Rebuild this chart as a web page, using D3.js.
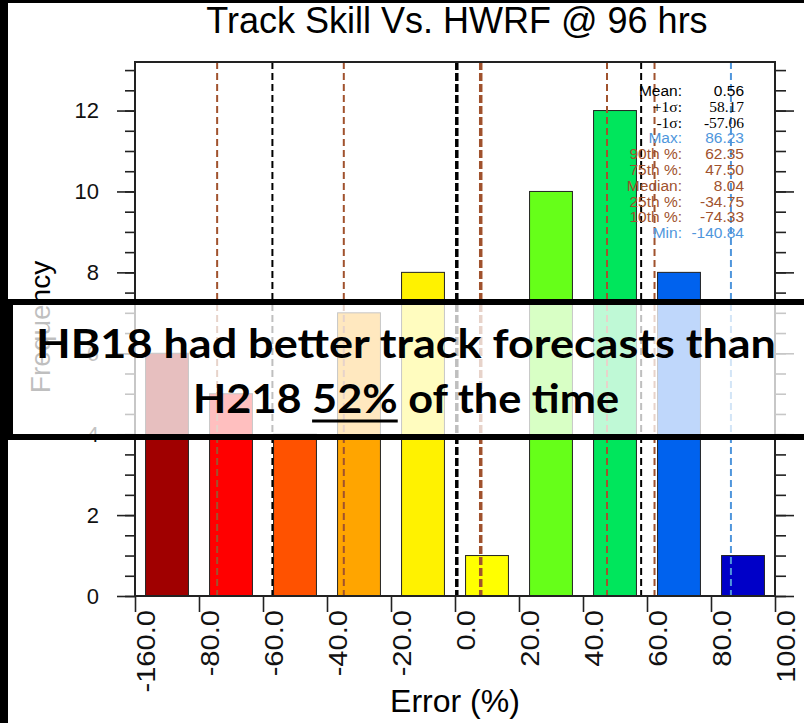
<!DOCTYPE html>
<html>
<head>
<meta charset="utf-8">
<script src="https://cdn.jsdelivr.net/npm/d3@7"></script>
<style>
  body { margin: 0; background: #fff; }
  svg { display: block; }
</style>
</head>
<body>
<div id="chart"></div>
<script>
// histogram bins (the first bin is wider, but drawn at the same width)
var binLabels = ["-160.0", "-80.0", "-60.0", "-40.0", "-20.0", "0.0", "20.0", "40.0", "60.0", "80.0", "100.0"];
var counts = [6, 5, 4, 7, 8, 1, 10, 12, 8, 1];
var barColors = ["#a00000", "#ff0000", "#ff5200", "#ffa500", "#fff200", "#ffff00", "#66ff19", "#00e65c", "#0062ee", "#0000c8"];
var yTicks = [0, 2, 4, 6, 8, 10, 12];

// summary statistics
var statNames = ["Mean:", "+1\u03c3:", "-1\u03c3:", "Max:", "90th %:", "75th %:", "Median:", "25th %:", "10th %:", "Min:"];
var statValues = [0.56, 58.17, -57.06, 86.23, 62.35, 47.50, 8.04, -34.75, -74.33, -140.84];
var statKinds = ["mean", "sigma", "sigma", "ext", "pct", "pct", "median", "pct", "pct", "ext"];

var overlayLines = ["HB18 had better track forecasts than", "H218 52% of the time"];

var W = 804, H = 723;
var margin = {top: 62, right: 29, bottom: 127, left: 135};
var width = W - margin.left - margin.right,
    height = H - margin.top - margin.bottom;

var kindColor = {mean: "#000", sigma: "#000", ext: "#4f96dc", pct: "#a0522d", median: "#a0522d"};
var kindWidth = {mean: 3.5, median: 3.5, sigma: 2, ext: 2, pct: 2};
var kindDash = {mean: "8,3", median: "8,3", sigma: "7,4", ext: "7,4", pct: "7,4"};

var svg = d3.select("#chart").append("svg")
            .attr("width", W)
            .attr("height", H)
            .style("font-family", "'Liberation Sans', Arial, sans-serif");

svg.append("rect").attr("width", W).attr("height", H).attr("fill", "#fff");

var g = svg.append("g")
           .attr("transform", "translate(" + margin.left + "," + margin.top + ")");

var xIdx = d3.scaleLinear().domain([0, 10]).range([0, width]);
// value scale: uniform 20-wide bins from -80 upward
var xVal = d3.scaleLinear().domain([-80, 100]).range([xIdx(1), xIdx(10)]);
var y = d3.scaleLinear().domain([0, 13.2]).range([height, 0]);

g.append("clipPath").attr("id", "plotclip")
 .append("rect").attr("width", width).attr("height", height);

// bars
var bw = (xIdx(1) - xIdx(0)) * 0.67;
g.append("g").selectAll("rect")
 .data(counts)
 .enter().append("rect")
   .attr("x", function(d, i){ return xIdx(i + 0.5) - bw / 2; })
   .attr("y", function(d){ return y(d); })
   .attr("width", bw)
   .attr("height", function(d){ return height - y(d); })
   .attr("fill", function(d, i){ return barColors[i]; })
   .attr("stroke", "#222")
   .attr("stroke-width", 1);

// stat lines
g.append("g").attr("clip-path", "url(#plotclip)")
 .selectAll("line")
 .data(statValues)
 .enter().append("line")
   .attr("x1", function(d){ return xVal(d); })
   .attr("x2", function(d){ return xVal(d); })
   .attr("y1", 0)
   .attr("y2", height)
   .attr("stroke", function(d, i){ return kindColor[statKinds[i]]; })
   .attr("stroke-width", function(d, i){ return kindWidth[statKinds[i]]; })
   .attr("stroke-dasharray", function(d, i){ return kindDash[statKinds[i]]; });

// axes
var yMinor = d3.range(0, 13.2, 0.5);
g.append("g").call(d3.axisLeft(y).tickValues(yMinor).tickSize(10).tickFormat(""));
g.append("g").call(d3.axisLeft(y).tickValues(yTicks).tickSize(18).tickPadding(18).tickFormat(d3.format("d")))
 .selectAll("text").style("font-size", "22px").attr("fill", "#111");
g.append("g").attr("transform", "translate(" + width + ",0)")
 .call(d3.axisRight(y).tickValues(yMinor).tickSize(11).tickFormat(""));
g.append("g").attr("transform", "translate(" + width + ",0)")
 .call(d3.axisRight(y).tickValues(yTicks).tickSize(19).tickFormat(""));

var xaxis = g.append("g").attr("transform", "translate(0," + height + ")")
 .call(d3.axisBottom(xIdx).tickValues(d3.range(11)).tickSize(16)
        .tickFormat(function(d){ return binLabels[d]; }));
xaxis.selectAll("text")
     .attr("x", 0).attr("y", 0).attr("dy", "0.35em")
     .attr("text-anchor", "end")
     .attr("transform", "translate(10,14) rotate(-90) scale(1.12,1)")
     .style("font-size", "26px")
     .attr("fill", "#111");

g.selectAll(".domain").remove();
g.selectAll(".tick line").attr("stroke", "#222").attr("stroke-width", 1.6);

// frame
g.append("rect").attr("width", width).attr("height", height)
 .attr("fill", "none").attr("stroke", "#222").attr("stroke-width", 2);

// stats block
var fmt = d3.format(".2f");
var stats = g.append("g").style("font-size", "15.5px");
statNames.forEach(function(name, i){
  var yy = 34 + i * 15.8;
  var serif = statKinds[i] === "sigma";
  stats.append("text")
       .attr("x", 547).attr("y", yy)
       .attr("text-anchor", "end")
       .attr("fill", kindColor[statKinds[i]])
       .style("font-family", serif ? "'Liberation Serif', serif" : null)
       .text(name);
  stats.append("text")
       .attr("x", 609).attr("y", yy)
       .attr("text-anchor", "end")
       .attr("fill", kindColor[statKinds[i]])
       .style("font-family", serif ? "'Liberation Serif', serif" : null)
       .text(fmt(statValues[i]).replace("\u2212", "-"));
});

// titles
svg.append("text")
   .attr("x", margin.left + width / 2 + 2).attr("y", 33)
   .attr("text-anchor", "middle")
   .style("font-size", "36px")
   .text("Track Skill Vs. HWRF @ 96 hrs");

svg.append("text")
   .attr("x", margin.left + width / 2).attr("y", 712)
   .attr("text-anchor", "middle")
   .style("font-size", "32px")
   .text("Error (%)");

svg.append("text")
   .attr("transform", "translate(50," + 327 + ") rotate(-90)")
   .attr("text-anchor", "middle")
   .style("font-size", "28px")
   .text("Frequency");

// black frame strips
svg.append("rect").attr("x", 0).attr("y", 0).attr("width", 8).attr("height", H).attr("fill", "#000");
svg.append("rect").attr("x", 0).attr("y", 0).attr("width", W).attr("height", 3).attr("fill", "#000");

// overlay box with message
var ov = svg.append("g");
ov.append("rect")
  .attr("x", 10).attr("y", 302)
  .attr("width", W + 20).attr("height", 135)
  .attr("fill", "#fff").attr("fill-opacity", 0.75)
  .attr("stroke", "#000").attr("stroke-width", 6);

var ovText = ov.selectAll("text.msg")
  .data(overlayLines)
  .enter().append("text")
    .attr("class", "msg")
    .attr("x", 406)
    .attr("y", function(d, i){ return 358 + i * 55; })
    .attr("text-anchor", "middle")
    .style("font-family", "Lato, 'Open Sans', sans-serif")
    .style("font-weight", "bold")
    .style("font-size", "41px")
    .attr("textLength", function(d, i){ return i === 0 ? 740 : 426; })
    .attr("lengthAdjust", "spacingAndGlyphs")
    .text(function(d){ return d; });

// underline "52%"
var line2 = ovText.nodes()[1];
var s = overlayLines[1].indexOf("52%");
var a = line2.getExtentOfChar(s), b = line2.getExtentOfChar(s + 2);
ov.append("line")
  .attr("x1", a.x).attr("x2", b.x + b.width)
  .attr("y1", 421).attr("y2", 421)
  .attr("stroke", "#000").attr("stroke-width", 3);
</script>
</body>
</html>
